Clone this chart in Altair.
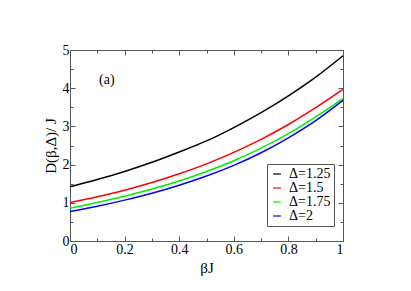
import altair as alt
import pandas as pd

beta_j = [0.0, 0.1, 0.2, 0.3, 0.4, 0.5, 0.6, 0.7, 0.8, 0.9, 1.0]
d_125 = [1.42, 1.61, 1.82, 2.06, 2.33, 2.62, 2.97, 3.36, 3.80, 4.29, 4.85]
d_150 = [1.01, 1.16, 1.33, 1.53, 1.76, 2.02, 2.32, 2.66, 3.05, 3.49, 3.97]
d_175 = [0.86, 1.01, 1.17, 1.36, 1.57, 1.82, 2.10, 2.43, 2.81, 3.25, 3.73]
d_200 = [0.77, 0.91, 1.07, 1.25, 1.46, 1.70, 1.98, 2.31, 2.70, 3.15, 3.68]
series_names = ["Δ=1.25", "Δ=1.5", "Δ=1.75", "Δ=2"]
series_colors = ["#000000", "#ff0000", "#00ee00", "#0000ff"]
x_major = [0, 0.2, 0.4, 0.6, 0.8, 1.0]
x_minor = [0.1, 0.3, 0.5, 0.7, 0.9]
y_major = [0, 1, 2, 3, 4, 5]
y_minor = [0.5, 1.5, 2.5, 3.5, 4.5]
label_text = ["(a)"]
label_x = [0.135]
label_y = [4.21]

rows = []
for name, vals in zip(series_names, [d_125, d_150, d_175, d_200]):
    for x, y in zip(beta_j, vals):
        rows.append({"bJ": x, "D": y, "series": name})
df = pd.DataFrame(rows)
ann = pd.DataFrame({"x": label_x, "y": label_y, "t": label_text})

FONT = "Liberation Serif, Times New Roman, serif"
xs = alt.Scale(domain=[0, 1], nice=False)
ys = alt.Scale(domain=[0, 5], nice=False)

def ax(orient, values, size, labels=False, title=None, fmt=None):
    kw = dict(orient=orient, values=values, tickSize=size, offset=-size, domain=False,
              grid=False, labels=labels, tickColor="#555555", tickWidth=1)
    if title is not None:
        kw.update(title=title, titleFont=FONT, titleFontSize=15, titleFontWeight="normal",
                  titleColor="#000000")
    else:
        kw.update(title=None)
    if labels:
        kw.update(labelFont=FONT, labelFontSize=14, labelColor="#000000", labelPadding=1)
    if fmt:
        kw.update(labelExpr=fmt)
    return alt.Axis(**kw)

color = alt.Color("series:N", sort=series_names,
                  scale=alt.Scale(domain=series_names, range=series_colors),
                  legend=alt.Legend(title=None, orient="none", legendX=197, legendY=114,
                                    labelFont=FONT, labelFontSize=14, labelColor="#000000",
                                    symbolType="stroke", symbolSize=60, symbolStrokeWidth=1.2,
                                    strokeColor="#555555", fillColor="#ffffff", padding=3,
                                    rowPadding=0, labelOffset=5, cornerRadius=0))

main = alt.Chart(df).mark_line(strokeWidth=1.5, interpolate="monotone").encode(
    x=alt.X("bJ:Q", scale=xs, axis=ax("bottom", x_major, 5, True, "βJ",
                                      "datum.value == 0 ? '0' : datum.value == 1 ? '1' : format(datum.value, '.1f')")),
    y=alt.Y("D:Q", scale=ys, axis=ax("left", y_major, 5, True, "D(β,Δ)/ J")),
    color=color,
)

def ghost(xo, yo, xv, yv, size):
    return alt.Chart(df).mark_line(strokeOpacity=0).encode(
        x=alt.X("bJ:Q", scale=xs, axis=ax(xo, xv, size)),
        y=alt.Y("D:Q", scale=ys, axis=ax(yo, yv, size)),
        detail="series:N",
    )

text = alt.Chart(ann).mark_text(font=FONT, fontSize=14, color="#000000").encode(
    x=alt.X("x:Q", scale=xs, axis=None), y=alt.Y("y:Q", scale=ys, axis=None), text="t:N")

chart = alt.layer(
    main,
    ghost("top", "right", x_major, y_major, 5),
    ghost("bottom", "left", x_minor, y_minor, 3),
    ghost("top", "right", x_minor, y_minor, 3),
    text,
).resolve_axis(x="independent", y="independent").properties(
    width=273, height=191,
    autosize=alt.AutoSizeParams(type="none"),
    padding={"left": 62, "top": 42, "right": 60, "bottom": 40},
).configure_view(stroke="#555555", strokeWidth=1)

chart.save("out.html", embed_options={"renderer": "svg", "actions": False})
